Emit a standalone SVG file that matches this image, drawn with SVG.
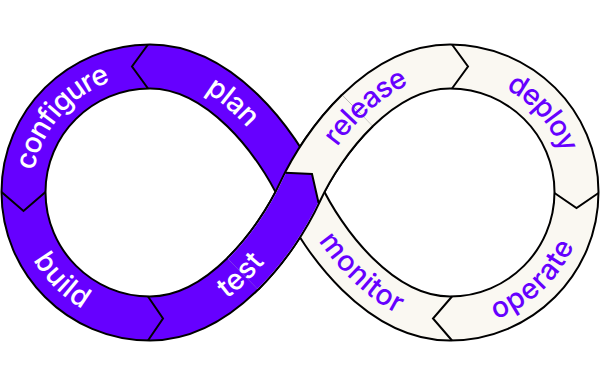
<svg xmlns="http://www.w3.org/2000/svg" width="600" height="386" viewBox="0 0 600 386">
<style>
.outline{fill:none;stroke:#000;stroke-width:46;stroke-linecap:butt}
.purple{fill:none;stroke:#6600ff;stroke-width:42;stroke-linecap:butt}
.cream{fill:none;stroke:#faf8f2;stroke-width:42;stroke-linecap:butt}
.sep{fill:none;stroke:#000;stroke-width:2;stroke-linejoin:miter}
.lbl{font-family:Inter,"Liberation Sans",sans-serif;font-size:28.5px;font-weight:500}
.w{fill:#ffffff}
.p{fill:#6600ff}
</style>
<defs>
<path id="loopL" d="M300,192 C276.9,142.1 220,66.5 150,66.5 C80.1,66.5 23.5,122.7 23.5,192 C23.5,261.9 80.1,318.5 150,318.5 C220,318.5 276.9,241.9 300,192"/>
<path id="loopR" d="M300,192 C323.1,142.1 380,66.5 450,66.5 C519.9,66.5 576.5,122.7 576.5,192 C576.5,261.9 519.9,318.5 450,318.5 C380,318.5 323.1,241.9 300,192"/>
<path id="strandA" d="M242.59,273.96 C268.45,248.58 288.45,216.95 300,192 C311.55,167.05 331.55,135.68 357.41,110.54"/>
<clipPath id="testClip"><polygon points="150,172.7 285.3,172.7 312,174 318.6,203 420,250 420,400 150,400"/></clipPath>
<path id="tpConfigure" d="M23.5,192 C23.5,122.7 80.1,66.5 150,66.5"/>
<path id="tpPlan" d="M150,66.5 C220,66.5 276.9,142.1 300,192"/>
<path id="tpBuild" d="M23.5,192 C23.5,261.9 80.1,318.5 150,318.5"/>
<path id="tpTest" d="M150,318.5 C220,318.5 276.9,241.9 300,192"/>
<path id="tpRelease" d="M300,192 C323.1,142.1 380,66.5 450,66.5"/>
<path id="tpDeploy" d="M450,66.5 C519.9,66.5 576.5,122.7 576.5,192"/>
<path id="tpOperate" d="M450,318.5 C519.9,318.5 576.5,261.9 576.5,192"/>
<path id="tpMonitor" d="M300,192 C323.1,241.9 380,318.5 450,318.5"/>
</defs>
<g id="band">
<use href="#loopL" class="outline"/>
<use href="#loopR" class="outline"/>
<use href="#loopL" class="purple"/>
<use href="#loopR" class="cream"/>
<use href="#strandA" class="outline"/>
<use href="#strandA" class="cream"/>
<use href="#strandA" class="purple" clip-path="url(#testClip)"/>
</g>
<g id="connectors">
<polyline class="sep" points="285.3,172.7 312,174 318.6,203"/>
<polyline class="sep" points="148,44.5 132,66.5 148,88.5"/>
<polyline class="sep" points="452,44.5 468,66.5 452,88.5"/>
<polyline class="sep" points="148,296.5 163,318.5 148,340.5"/>
<polyline class="sep" points="452,296.5 433,318.5 452,340.5"/>
<polyline class="sep" points="1.5,192 23.5,211 45.5,192"/>
<polyline class="sep" points="554.5,193 576.5,208 598.5,193"/>
</g>
<g id="configure"><text class="lbl w" dy="0.3em" text-anchor="middle"><textPath href="#tpConfigure" startOffset="45%">configure</textPath></text></g>
<g id="plan"><text class="lbl w" dy="0.3em" text-anchor="middle"><textPath href="#tpPlan" startOffset="45%">plan</textPath></text></g>
<g id="build"><text class="lbl w" dy="0.3em" text-anchor="middle"><textPath href="#tpBuild" startOffset="50%">build</textPath></text></g>
<g id="test"><text class="lbl w" dy="0.3em" text-anchor="middle"><textPath href="#tpTest" startOffset="50%">test</textPath></text></g>
<g id="release"><text class="lbl p" dy="0.3em" text-anchor="middle"><textPath href="#tpRelease" startOffset="53%">release</textPath></text></g>
<g id="deploy"><text class="lbl p" dy="0.3em" text-anchor="middle"><textPath href="#tpDeploy" startOffset="55%">deploy</textPath></text></g>
<g id="operate"><text class="lbl p" dy="0.3em" text-anchor="middle"><textPath href="#tpOperate" startOffset="48%">operate</textPath></text></g>
<g id="monitor"><text class="lbl p" dy="0.3em" text-anchor="middle"><textPath href="#tpMonitor" startOffset="50%">monitor</textPath></text></g>
</svg>
